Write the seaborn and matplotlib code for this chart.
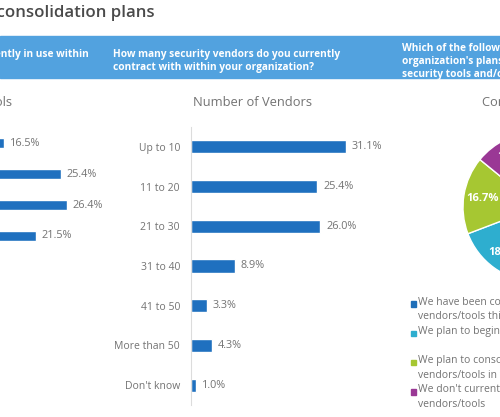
import matplotlib
matplotlib.use("Agg")
import matplotlib.pyplot as plt
from matplotlib.patches import Rectangle
import pandas as pd
import seaborn as sns

# --- data ---
tool_bands = ["band 1", "band 2", "band 3", "band 4"]
tool_share = [16.5, 25.4, 26.4, 21.5]

vendor_bands = ["Up to 10", "11 to 20", "21 to 30", "31 to 40",
                "41 to 50", "More than 50", "Don't know"]
vendor_share = [31.1, 25.4, 26.0, 8.9, 3.3, 4.3, 1.0]

plan_labels = ["We have been consolidating security\nvendors/tools this year",
               "We plan to begin consolidating security vendors/tools",
               "We plan to consolidate security\nvendors/tools in the next two years",
               "We don't currently plan to consolidate security\nvendors/tools"]
plan_share = [50.8, 18.4, 16.7, 14.1]
plan_colors = ["#1f6fb9", "#2eaecf", "#a6c732", "#9a3895"]

BAR = "#1f70bf"
GREY = "#737373"
BANNER = "#52a2df"

sns.set_style("white")
plt.rcParams["font.family"] = ["Open Sans", "DejaVu Sans"]

W, H = 500, 417
fig = plt.figure(figsize=(W / 100, H / 100), dpi=100)


def fx(px):
    return px / W


def fy(py):
    return 1 - py / H


# title and banner
fig.text(fx(155), fy(13), "Security vendor consolidation plans", ha="right", va="center",
         fontsize=12.1, color="#4a4a4a", fontweight="semibold")
fig.patches.append(Rectangle((0, fy(78)), 1, 42 / H, transform=fig.transFigure,
                             color=BANNER, zorder=0))
fig.text(fx(89), fy(61), "How many security tools are currently in use within\nyour organization?",
         ha="right", va="center", multialignment="left", fontsize=7.3,
         color="white", fontweight="bold", linespacing=1.25)
fig.text(fx(113), fy(61), "How many security vendors do you currently\ncontract with within your organization?",
         ha="left", va="center", fontsize=7.3, color="white", fontweight="bold", linespacing=1.25)
fig.text(fx(402), fy(61.5), "Which of the following best describes your\norganization's plans for consolidating\nsecurity tools and/or vendors?",
         ha="left", va="center", fontsize=7.3, color="white", fontweight="bold", linespacing=1.25)

# chart titles
fig.text(fx(12), fy(103), "Number of Tools", ha="right", va="center", fontsize=9.3, color=GREY)
fig.text(fx(193), fy(103), "Number of Vendors", ha="left", va="center", fontsize=9.3, color=GREY)
fig.text(fx(482), fy(103), "Consolidation Plans", ha="left", va="center", fontsize=9.3, color=GREY)


def bar_panel(ax, cats, vals, xmax, thickness, show_labels):
    df = pd.DataFrame({"cat": cats, "val": vals})
    sns.barplot(data=df, y="cat", x="val", orient="h", color=BAR, width=thickness,
                saturation=1, ax=ax)
    ax.set_xlim(0, xmax)
    ax.set_ylim(len(cats) - 0.5, -0.5)
    ax.set_xlabel("")
    ax.set_ylabel("")
    ax.set_xticks([])
    for s in ["top", "right", "bottom"]:
        ax.spines[s].set_visible(False)
    ax.spines["left"].set_color("#dcdcdc")
    ax.tick_params(axis="y", length=0, pad=8, labelsize=7.5, labelcolor=GREY)
    if not show_labels:
        ax.set_yticklabels([])
    ax.bar_label(ax.containers[0], labels=[f"{v:.1f}%" for v in vals],
                 padding=4, fontsize=7.8, color=GREY)
    ax.patch.set_alpha(0)


# left panel (mostly cut off)
ax1 = fig.add_axes([fx(-101.6), fy(251.5), 30 * 6.4 / W, 124 / H])
bar_panel(ax1, tool_bands, tool_share, 30, 0.35, False)

# middle panel
ax2 = fig.add_axes([fx(191), fy(405), 35 * 4.98 / W, 278 / H])
bar_panel(ax2, vendor_bands, vendor_share, 35, 0.33, True)

# pie
r = 75
ax3 = fig.add_axes([fx(538 - r), fy(207 + r), 2 * r / W, 2 * r / H])
ax3.pie(plan_share, colors=plan_colors, startangle=90, counterclock=False,
        autopct="%.1f%%", pctdistance=0.75,
        textprops=dict(color="white", fontweight="bold", fontsize=8))
ax3.set_xlim(-1, 1)
ax3.set_ylim(-1, 1)

# legend for the pie
ly = 304
for lab, col in zip(plan_labels, plan_colors):
    fig.patches.append(Rectangle((fx(410.5), fy(ly + 2.7)), 5.4 / W, 5.4 / H,
                                 transform=fig.transFigure, color=col))
    fig.text(fx(418), fy(ly - 7.5), lab, ha="left", va="top", fontsize=7.5, color=GREY,
             linespacing=1.45)
    ly += 29.3

fig.savefig("out.png", dpi=100)
